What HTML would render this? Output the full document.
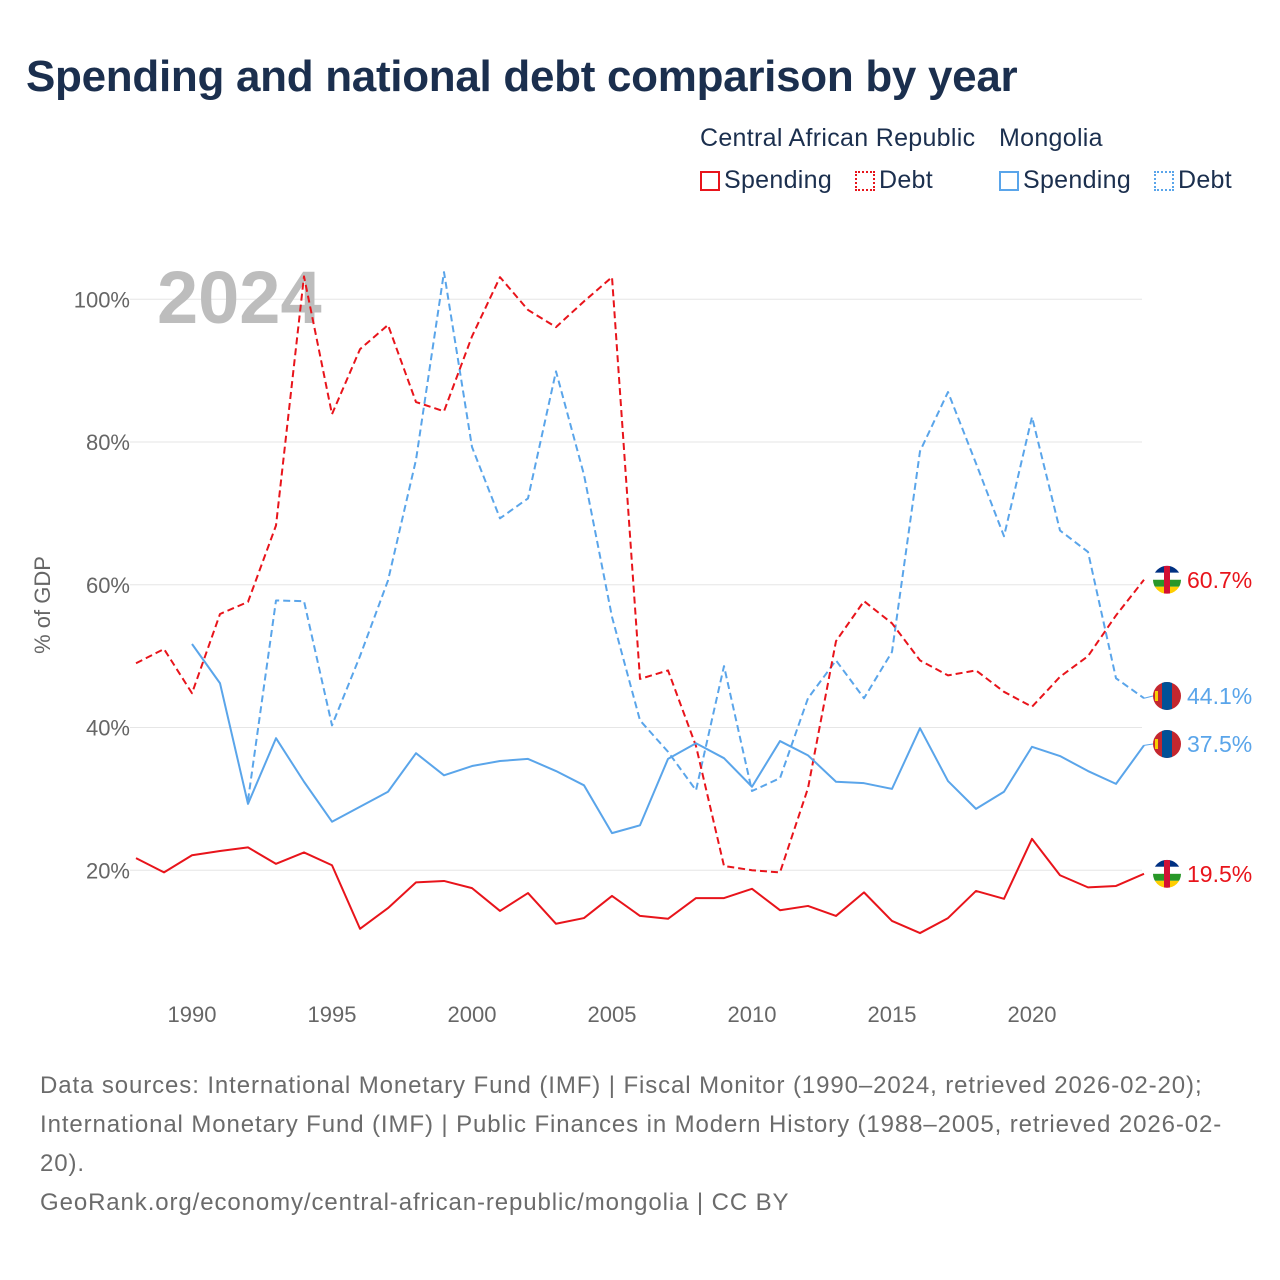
<!DOCTYPE html>
<html><head><meta charset="utf-8">
<style>
body{margin:0;background:#fff;font-family:"Liberation Sans",sans-serif;}
#wrap{position:relative;width:1280px;height:1280px;overflow:hidden;}
h1{position:absolute;left:26px;top:52px;margin:0;font-size:44px;font-weight:bold;color:#1b2f4e;letter-spacing:-0.3px;}
.leg{position:absolute;font-size:25px;color:#1b2f4e;letter-spacing:0.3px;}
.box{display:inline-block;width:20px;height:20px;vertical-align:-3px;margin-right:4px;box-sizing:border-box;}
#foot{position:absolute;left:40px;top:1066px;width:1200px;font-size:24px;line-height:39px;color:#6b6b6b;letter-spacing:0.9px;}
</style></head><body>
<div id="wrap">
<h1>Spending and national debt comparison by year</h1>
<div class="leg" style="left:700px;top:124px">Central African Republic</div>
<div class="leg" style="left:999px;top:124px">Mongolia</div>
<div class="leg" style="left:700px;top:166px"><span class="box" style="border:2px solid #e8141b"></span>Spending</div>
<div class="leg" style="left:855px;top:166px"><span class="box" style="border:2px dotted #e8141b"></span>Debt</div>
<div class="leg" style="left:999px;top:166px"><span class="box" style="border:2px solid #5aa5ea"></span>Spending</div>
<div class="leg" style="left:1154px;top:166px"><span class="box" style="border:2px dotted #5aa5ea"></span>Debt</div>
<svg id="chart" width="1280" height="1280" style="position:absolute;left:0;top:0"></svg>
<div id="foot">Data sources: International Monetary Fund (IMF) | Fiscal Monitor (1990–2024, retrieved 2026-02-20); International Monetary Fund (IMF) | Public Finances in Modern History (1988–2005, retrieved 2026-02-20).<br>GeoRank.org/economy/central-african-republic/mongolia | CC BY</div>
</div>
<script>
const carYears=[1988,1989,1990,1991,1992,1993,1994,1995,1996,1997,1998,1999,2000,2001,2002,2003,2004,2005,2006,2007,2008,2009,2010,2011,2012,2013,2014,2015,2016,2017,2018,2019,2020,2021,2022,2023,2024];
const carDebt=[49.0,51.0,44.8,55.9,57.6,68.3,103.2,83.9,93.0,96.4,85.6,84.3,94.8,103.1,98.5,96.1,99.7,103.1,46.8,48.0,37.4,20.6,20.0,19.7,31.5,52.1,57.7,54.6,49.4,47.3,48.0,45.0,42.9,47.1,50.0,55.7,60.7];
const carSpend=[21.7,19.7,22.1,22.7,23.2,20.9,22.5,20.7,11.8,14.7,18.3,18.5,17.5,14.3,16.8,12.5,13.3,16.4,13.6,13.2,16.1,16.1,17.4,14.4,15.0,13.6,16.9,12.9,11.2,13.3,17.1,16.0,24.4,19.3,17.6,17.8,19.5];
const mngSpendYears=[1990,1991,1992,1993,1994,1995,1996,1997,1998,1999,2000,2001,2002,2003,2004,2005,2006,2007,2008,2009,2010,2011,2012,2013,2014,2015,2016,2017,2018,2019,2020,2021,2022,2023,2024];
const mngSpend=[51.7,46.2,29.3,38.5,32.4,26.8,28.9,31.0,36.4,33.3,34.6,35.3,35.6,33.9,31.9,25.2,26.3,35.6,37.8,35.7,31.7,38.1,36.1,32.4,32.2,31.4,39.9,32.5,28.6,31.0,37.3,36.0,33.9,32.1,37.5];
const mngDebtYears=[1992,1993,1994,1995,1996,1997,1998,1999,2000,2001,2002,2003,2004,2005,2006,2007,2008,2009,2010,2011,2012,2013,2014,2015,2016,2017,2018,2019,2020,2021,2022,2023,2024];
const mngDebt=[29.8,57.8,57.7,40.3,50.0,60.6,77.5,103.8,79.3,69.3,72.1,89.9,75.4,55.5,41.0,36.6,31.2,48.6,31.1,32.9,44.1,49.4,44.1,50.6,78.7,87.0,77.0,66.8,83.5,67.6,64.6,46.9,44.1];
const yTicks=[20,40,60,80,100];
const xTicks=[1990,1995,2000,2005,2010,2015,2020];
const NS="http://www.w3.org/2000/svg";
const svg=document.getElementById('chart');
const x=yr=>192+(yr-1990)*28;
const y=v=>1013-v*7.1375;
function mk(tag,attrs,parent){const e=document.createElementNS(NS,tag);for(const k in attrs)e.setAttribute(k,attrs[k]);(parent||svg).appendChild(e);return e;}
yTicks.forEach(t=>{
  const g=mk('line',{x1:130,x2:1142,y1:y(t),y2:y(t),stroke:'#e6e6e6','stroke-width':1});
  
  
  const tx=mk('text',{x:130,y:y(t)+8,'text-anchor':'end','font-size':22,fill:'#666','font-family':'Liberation Sans, sans-serif'});
  tx.textContent=t+'%';
  
  
});
xTicks.forEach(t=>{
  const tx=mk('text',{x:x(t),y:1022,'text-anchor':'middle','font-size':22,fill:'#666','font-family':'Liberation Sans, sans-serif'});
  tx.textContent=t;
  
  
});
const yt=mk('text',{transform:'translate(50,605) rotate(-90)','text-anchor':'middle','font-size':22,fill:'#666','font-family':'Liberation Sans, sans-serif'});
yt.textContent='% of GDP';


const yr=mk('text',{x:157,y:323,'font-size':74,'font-weight':'bold',fill:'#bdbdbd','font-family':'Liberation Sans, sans-serif'});
yr.textContent='2024';


function line(years,vals,color,dash,name){
  const d=years.map((yy,i)=>(i?'L':'M')+x(yy)+','+y(vals[i])).join(' ');
  const p=mk('path',{d:d,fill:'none',stroke:color,'stroke-width':2,'stroke-dasharray':dash||'none','stroke-linejoin':'round'});
  
  
}
line(mngDebtYears,mngDebt,'#5aa5ea','7,4','line-mongolia-debt');
line(carYears,carDebt,'#e8141b','7,4','line-car-debt');
line(mngSpendYears,mngSpend,'#5aa5ea','','line-mongolia-spending');
line(carYears,carSpend,'#e8141b','','line-car-spending');
function flag(cy,type,name){
  const g=mk('g',{});
  
  
  const cx=1167,r=14;
  const id='c'+Math.round(cy);
  const cp=mk('clipPath',{id:id},g);mk('circle',{cx:cx,cy:cy,r:r},cp);
  const gg=mk('g',{'clip-path':'url(#'+id+')'},g);
  if(type==='car'){
    ['#003082','#fff','#289728','#ffce00'].forEach((c,i)=>mk('rect',{x:cx-r,y:cy-r+i*7,width:28,height:7,fill:c},gg));
    mk('rect',{x:cx-3,y:cy-r,width:6,height:28,fill:'#d21034'},gg);
  }else{
    mk('rect',{x:cx-r,y:cy-r,width:28,height:28,fill:'#c4272f'},gg);
    mk('rect',{x:cx-5,y:cy-r,width:10,height:28,fill:'#015197'},gg);
    mk('rect',{x:cx-12,y:cy-5,width:3,height:10,fill:'#f9cf02'},gg);
  }
}
function endLabel(val,color,ly,type,name){
  const yy=y(val);
  if(Math.abs(ly-yy)>1){mk('path',{d:'M'+x(2024)+','+yy+' L1153,'+ly,stroke:color,fill:'none','stroke-width':1});}
  flag(ly,type,'flag-'+name);
  const t=mk('text',{x:1187,y:ly+8,'font-size':23,fill:color,'font-family':'Liberation Sans, sans-serif'});
  t.textContent=val.toFixed(1)+'%';
  
  
}
endLabel(carDebt[carDebt.length-1],'#e8141b',y(carDebt[carDebt.length-1]),'car','car-debt');
endLabel(mngDebt[mngDebt.length-1],'#5aa5ea',696,'mng','mongolia-debt');
endLabel(mngSpend[mngSpend.length-1],'#5aa5ea',744,'mng','mongolia-spending');
endLabel(carSpend[carSpend.length-1],'#e8141b',y(carSpend[carSpend.length-1]),'car','car-spending');
</script>
</body></html>
